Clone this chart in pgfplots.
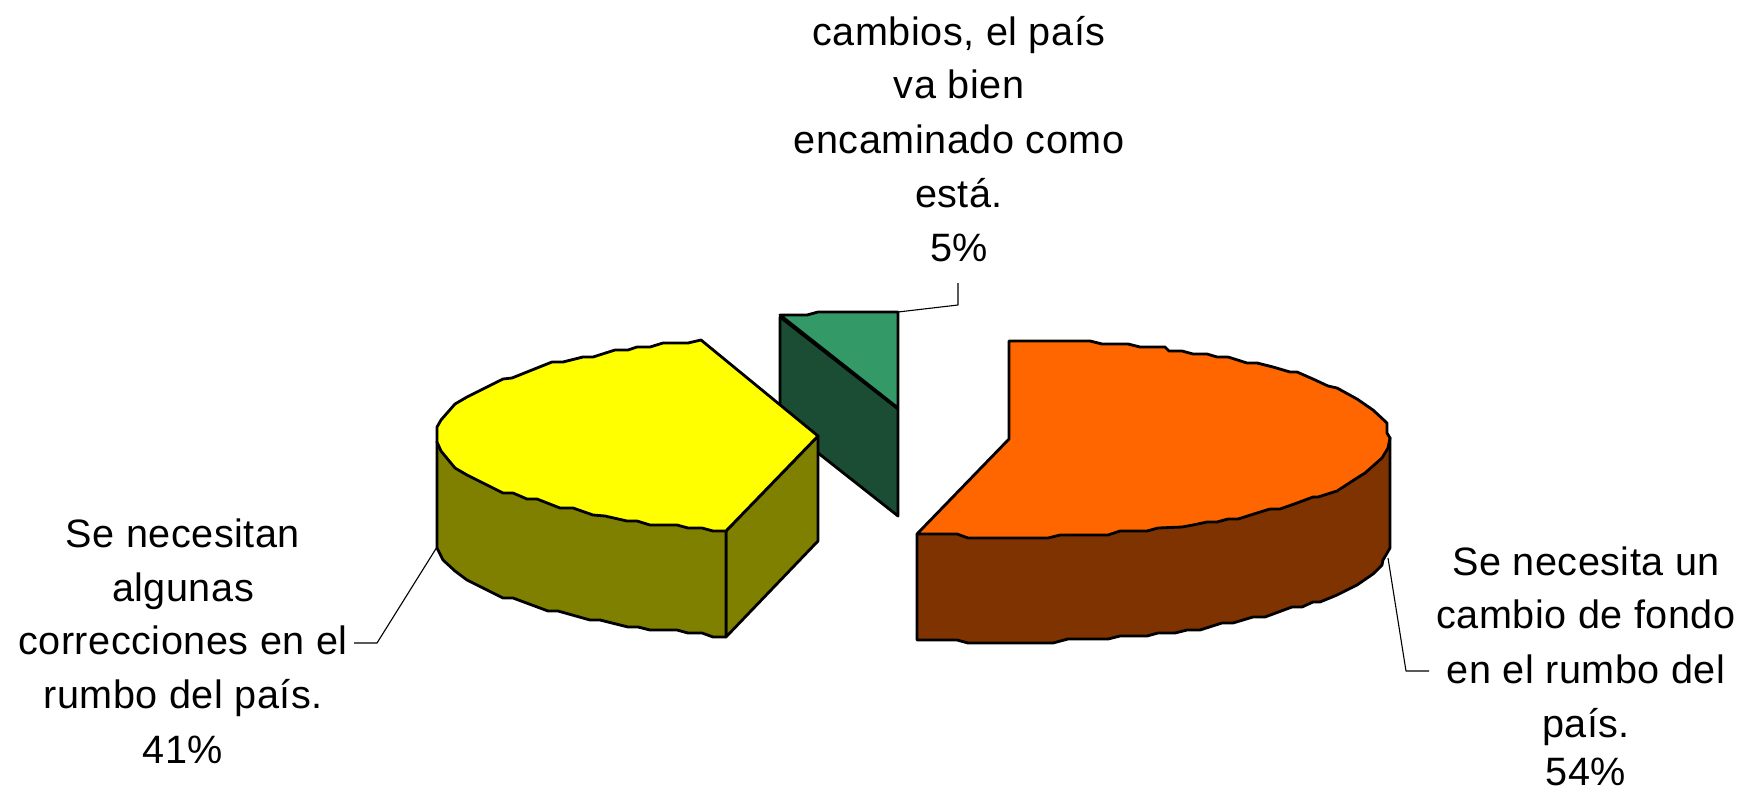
\documentclass[border=0pt]{standalone}
\usepackage{pgfplots}
\pgfplotsset{compat=1.18}
\usepackage{fontspec}
\setmainfont[LetterSpace=1.3]{Liberation Sans}
\definecolor{cOrange}{HTML}{FF6600}
\definecolor{cBrown}{HTML}{7F3300}
\definecolor{cYellow}{HTML}{FFFF00}
\definecolor{cOlive}{HTML}{808000}
\definecolor{cGreen}{HTML}{339966}
\definecolor{cDark}{HTML}{1A4D33}
\tikzset{txt/.style={anchor=base,inner sep=0pt,font=\fontsize{19.8}{23}\selectfont}}
\begin{document}
\begin{tikzpicture}
\useasboundingbox (0,0) rectangle (870.5pt,396.5pt);
\begin{axis}[at={(0,0)},anchor=south west,scale only axis,width=870.5pt,height=396.5pt,
  xmin=0,xmax=1741,ymin=0,ymax=793,y dir=reverse,hide axis,clip=false,
  every axis plot/.append style={black,line width=1.4pt,line join=round}]
% leaders
\addplot[line width=0.55pt] coordinates {(898,312)(958,305)(958,283)};
\addplot[line width=0.55pt] coordinates {(1388,558)(1406,671)(1429,671)};
\addplot[line width=0.55pt] coordinates {(437,547)(377,643)(354,643)};
% 5% slice
\addplot[fill=cDark] coordinates {(780,317)(898,409)(898,516)(780,423)} --cycle;
\addplot[fill=cGreen] coordinates {(780,315)(807,315)(818,312)(898,312)(898,408)} --cycle;
% 41% slice
\addplot[fill=cOlive] coordinates {(726,531)(818,436)(818,541)(726,637)} --cycle;
\addplot[fill=cOlive] coordinates {(437,442)(437,548)(443,560)(455,571)(467,580)(503,598)(513,598)(548,611)(558,611)(590,620)(600,620)(628,627)(638,627)(650,630)(677,630)(688,633)(702,633)(713,637)(726,637)(726,531)} --cycle;
\addplot[fill=cYellow] coordinates {(701,340)(688,343)(663,343)(650,347)(637,347)(628,350)(615,350)(593,357)(583,357)(563,362)(552,362)(512,378)(503,379)(467,397)(455,404)(441,420)(437,427)(437,442)(441,451)(455,468)(467,475)(503,493)(513,493)(527,499)(537,499)(560,508)(573,508)(593,515)(605,516)(627,521)(637,521)(650,525)(677,525)(688,528)(702,528)(713,531)(726,531)(818,436)} --cycle;
% 54% slice
\addplot[fill=cBrown] coordinates {(917,534)(917,640)(957,640)(968,643)(1053,643)(1068,639)(1108,639)(1120,636)(1147,636)(1158,633)(1175,633)(1187,630)(1200,630)(1222,623)(1233,623)(1253,617)(1265,617)(1292,607)(1302,607)(1313,602)(1320,602)(1337,595)(1357,585)(1373,574)(1382,565)(1383,560)(1390,548)(1390,438)} --cycle;
\addplot[fill=cOrange] coordinates {(1009,341)(1090,341)(1102,344)(1128,344)(1140,347)(1165,347)(1169,351)(1182,351)(1193,354)(1207,354)(1217,357)(1228,357)(1247,363)(1257,363)(1273,367)(1290,372)(1297,372)(1313,379)(1328,386)(1337,388)(1357,399)(1373,410)(1387,423)(1387,433)(1390,438)(1388,448)(1382,458)(1365,473)(1357,478)(1337,491)(1318,497)(1313,497)(1297,503)(1280,509)(1270,509)(1257,513)(1238,519)(1228,519)(1217,522)(1207,522)(1193,525)(1182,527)(1158,528)(1147,531)(1120,531)(1108,535)(1060,535)(1048,538)(968,538)(957,534)(917,534)(1009,439)} --cycle;
% labels
\node[txt] at (axis cs:959,45) {cambios, el país};
\node[txt] at (axis cs:959,98) {va bien};
\node[txt] at (axis cs:959,153) {encaminado como};
\node[txt] at (axis cs:959,207) {está.};
\node[txt] at (axis cs:959,261) {5\%};
\node[txt] at (axis cs:1586,575) {Se necesita un};
\node[txt] at (axis cs:1586,628) {cambio de fondo};
\node[txt] at (axis cs:1586,683) {en el rumbo del};
\node[txt] at (axis cs:1586,737) {país.};
\node[txt] at (axis cs:1586,785) {54\%};
\node[txt] at (axis cs:183,547) {Se necesitan};
\node[txt] at (axis cs:183,601) {algunas};
\node[txt] at (axis cs:183,654) {correcciones en el};
\node[txt] at (axis cs:183,708) {rumbo del país.};
\node[txt] at (axis cs:183,763) {41\%};
\end{axis}
\end{tikzpicture}
\end{document}
